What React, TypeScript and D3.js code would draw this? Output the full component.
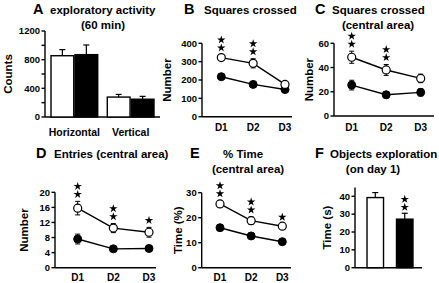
import React from "react";
import * as d3 from "d3";

// ---------- DATA ----------
const days = ["D1", "D2", "D3"];

// Panel A: exploratory activity (60 min)
const activityCats = ["Horizontal", "Vertical"];
const activityOpen = [855, 278];
const activityOpenErr = [85, 37];
const activityFilled = [870, 248];
const activityFilledErr = [135, 40];
const activityTicks = [0, 400, 800, 1200];

// Panel B: Squares crossed
const squaresOpen = [322, 291, 176];
const squaresOpenErr = [15, 25, 10];
const squaresFilled = [218, 176, 148];
const squaresFilledErr = [14, 12, 10];
const squaresStars = [2, 2, 0];
const squaresTicks = [0, 100, 200, 300, 400];

// Panel C: Squares crossed (central area)
const centralOpen = [48.5, 38, 31];
const centralOpenErr = [5, 4.5, 3.5];
const centralFilled = [25.5, 17.5, 19.5];
const centralFilledErr = [4, 2.5, 3];
const centralStars = [2, 2, 0];
const centralTicks = [0, 20, 40, 60];

// Panel D: Entries (central area)
const entriesOpen = [15.8, 10.5, 9.4];
const entriesOpenErr = [1.8, 1.2, 1.3];
const entriesFilled = [7.6, 5.0, 5.1];
const entriesFilledErr = [1.3, 0.6, 0.6];
const entriesStars = [2, 2, 1];
const entriesTicks = [0, 4, 8, 12, 16, 20];

// Panel E: % Time (central area)
const timeOpen = [25.5, 18.8, 16.6];
const timeOpenErr = [1.3, 1.5, 0.8];
const timeFilled = [16, 12.7, 10.4];
const timeFilledErr = [0.5, 0.6, 0.5];
const timeStars = [2, 2, 1];
const timeTicks = [0, 10, 20, 30];

// Panel F: Objects exploration (on day 1)
const objectsGroups = ["open", "filled"];
const objectsValues = [39.3, 27.2];
const objectsErr = [2.8, 3.3];
const objectsStars = [0, 2];
const objectsTicks = [0, 10, 20, 30, 40];

const FONT = "'Liberation Sans', Arial, Helvetica, sans-serif";
const SW = 1.4;

const starPath = d3.symbol().type(d3.symbolStar).size(22)() as string;

function Stars({ x, yTop, n }: { x: number; yTop: number; n: number }) {
  const items = [];
  for (let i = 0; i < n; i++) {
    items.push(
      <path key={i} d={starPath} transform={`translate(${x},${yTop - 7 - i * 8})`} fill="#000" />
    );
  }
  return <g>{items}</g>;
}

function YAxis({ x, y, ticks, minor, label, labelX, fs = 9.5 }: any) {
  const [d0, d1] = y.domain();
  const all = minor || ticks;
  return (
    <g>
      <line x1={x} x2={x} y1={y(d0)} y2={y(d1)} stroke="#000" strokeWidth={SW} />
      {all.map((t: number) => (
        <line key={"t" + t} x1={x - 3.5} x2={x} y1={y(t)} y2={y(t)} stroke="#000" strokeWidth={SW} />
      ))}
      {ticks.map((t: number) => (
        <text key={"l" + t} x={x - 5} y={y(t)} dy="0.35em" textAnchor="end" fontSize={fs} fontWeight="bold" fontFamily={FONT}>
          {t}
        </text>
      ))}
      <text
        transform={`translate(${labelX},${(y(d0) + y(d1)) / 2}) rotate(-90)`}
        textAnchor="middle"
        fontSize={11.5}
        fontWeight="bold"
        fontFamily={FONT}
      >
        {label}
      </text>
    </g>
  );
}

function LinePanel({ x0, x1, xr, yr, domain, ticks, open, openErr, filled, filledErr, stars, label, labelX, xLabelY }: any) {
  const x = d3.scalePoint().domain(days).range(xr);
  const y = d3.scaleLinear().domain(domain).range(yr);
  const line = d3
    .line<number>()
    .x((_, i) => x(days[i]) as number)
    .y((v) => y(v));
  const errBar = (vals: number[], errs: number[], key: string) =>
    vals.map((v, i) => {
      const cx = x(days[i]) as number;
      return (
        <g key={key + i}>
          <line x1={cx} x2={cx} y1={y(v - errs[i])} y2={y(v + errs[i])} stroke="#000" strokeWidth={1} />
          <line x1={cx - 2.5} x2={cx + 2.5} y1={y(v - errs[i])} y2={y(v - errs[i])} stroke="#000" strokeWidth={1} />
          <line x1={cx - 2.5} x2={cx + 2.5} y1={y(v + errs[i])} y2={y(v + errs[i])} stroke="#000" strokeWidth={1} />
        </g>
      );
    });
  return (
    <g>
      <YAxis x={x0} y={y} ticks={ticks} label={label} labelX={labelX} />
      <line x1={x0} x2={x1} y1={y(domain[0])} y2={y(domain[0])} stroke="#000" strokeWidth={SW} />
      {days.map((d) => (
        <text key={d} x={x(d)} y={xLabelY} textAnchor="middle" fontSize={10} fontWeight="bold" fontFamily={FONT}>
          {d}
        </text>
      ))}
      <path d={line(filled) as string} fill="none" stroke="#000" strokeWidth={SW} />
      <path d={line(open) as string} fill="none" stroke="#000" strokeWidth={SW} />
      {errBar(filled, filledErr, "f")}
      {errBar(open, openErr, "o")}
      {filled.map((v: number, i: number) => (
        <circle key={"fc" + i} cx={x(days[i])} cy={y(v)} r={4} fill="#000" stroke="#000" strokeWidth={1} />
      ))}
      {open.map((v: number, i: number) => (
        <circle key={"oc" + i} cx={x(days[i])} cy={y(v)} r={4} fill="#fff" stroke="#000" strokeWidth={1.2} />
      ))}
      {stars.map((n: number, i: number) => (
        <Stars key={"s" + i} x={x(days[i]) as number} yTop={y(open[i] + openErr[i])} n={n} />
      ))}
    </g>
  );
}

function Title({ letter, lx, tx, lines, y }: any) {
  return (
    <g fontFamily={FONT} fontWeight="bold">
      <text x={lx} y={y} fontSize={14.5}>
        {letter}
      </text>
      {lines.map((l: any, i: number) => (
        <text key={i} x={l.x ?? tx} y={y + i * 15} fontSize={11.5} textAnchor={l.anchor ?? "start"}>
          {l.t}
        </text>
      ))}
    </g>
  );
}

export default function App() {
  // Panel A
  const yA = d3.scaleLinear().domain([0, 1200]).range([117, 31]);
  const xA = d3.scaleBand().domain(activityCats).range([51, 154]).paddingInner(0.17);
  const xAin = d3.scaleBand().domain(["open", "filled"]).range([0, xA.bandwidth()]).paddingInner(0.05);

  // Panel F
  const yF = d3.scaleLinear().domain([0, 45]).range([267.7, 187.4]);
  const xF = d3.scaleBand().domain(objectsGroups).range([357, 423]).paddingInner(0.44).paddingOuter(0.34);

  const barErr = (cx: number, top: number, errTop: number, w: number, key: string) => (
    <g key={key}>
      <line x1={cx} x2={cx} y1={top} y2={errTop} stroke="#000" strokeWidth={1.2} />
      <line x1={cx - w / 2} x2={cx + w / 2} y1={errTop} y2={errTop} stroke="#000" strokeWidth={1.2} />
    </g>
  );

  return (
    <svg width={439} height={283} style={{ position: "absolute", left: 0, top: 0, background: "#fff" }}>
      <rect width={439} height={283} fill="#fff" />
      {/* Titles */}
      <Title letter="A" lx={33} tx={50} y={14} lines={[{ t: "exploratory activity" }, { t: "(60 min)", x: 103, anchor: "middle" }]} />
      <Title letter="B" lx={184} tx={204} y={14} lines={[{ t: "Squares crossed" }]} />
      <Title letter="C" lx={315} tx={332} y={14} lines={[{ t: "Squares crossed" }, { t: "(central area)", x: 378, anchor: "middle" }]} />
      <Title letter="D" lx={36} tx={54} y={158} lines={[{ t: "Entries (central area)" }]} />
      <Title letter="E" lx={190} tx={0} y={158} lines={[{ t: "% Time", x: 243, anchor: "middle" }, { t: "(central area)", x: 248, anchor: "middle" }]} />
      <Title letter="F" lx={315} tx={330} y={158} lines={[{ t: "Objects exploration" }, { t: "(on day 1)", x: 373, anchor: "middle" }]} />

      {/* Panel A */}
      <g>
        <YAxis x={45} y={yA} ticks={activityTicks} minor={d3.range(0, 1201, 200)} label="Counts" labelX={12} />
        <line x1={45} x2={160} y1={117} y2={117} stroke="#000" strokeWidth={SW} />
        {activityCats.map((c, i) => {
          const gx = xA(c) as number;
          const bw = xAin.bandwidth();
          const ox = gx + (xAin("open") as number);
          const fx = gx + (xAin("filled") as number);
          return (
            <g key={c}>
              {barErr(ox + bw / 2, yA(activityOpen[i]), yA(activityOpen[i] + activityOpenErr[i]), 6, "oe" + i)}
              {barErr(fx + bw / 2, yA(activityFilled[i]), yA(activityFilled[i] + activityFilledErr[i]), 6, "fe" + i)}
              <rect x={ox} y={yA(activityOpen[i])} width={bw} height={yA(0) - yA(activityOpen[i])} fill="#fff" stroke="#000" strokeWidth={SW} />
              <rect x={fx} y={yA(activityFilled[i])} width={bw} height={yA(0) - yA(activityFilled[i])} fill="#000" stroke="#000" strokeWidth={SW} />
              <text x={gx + xA.bandwidth() / 2} y={136} textAnchor="middle" fontSize={10.5} fontWeight="bold" fontFamily={FONT}>
                {c}
              </text>
            </g>
          );
        })}
      </g>

      {/* Panel B */}
      <LinePanel
        x0={202} x1={292} xr={[221.3, 285]} yr={[116.7, 43.3]} domain={[0, 400]} ticks={squaresTicks}
        open={squaresOpen} openErr={squaresOpenErr} filled={squaresFilled} filledErr={squaresFilledErr}
        stars={squaresStars} label="Number" labelX={171} xLabelY={131}
      />
      {/* Panel C */}
      <LinePanel
        x0={334} x1={434} xr={[351.7, 420.7]} yr={[116, 43.3]} domain={[0, 60]} ticks={centralTicks}
        open={centralOpen} openErr={centralOpenErr} filled={centralFilled} filledErr={centralFilledErr}
        stars={centralStars} label="Number" labelX={313} xLabelY={131}
      />
      {/* Panel D */}
      <LinePanel
        x0={55} x1={156} xr={[77.7, 149]} yr={[267.7, 192.3]} domain={[0, 20]} ticks={entriesTicks}
        open={entriesOpen} openErr={entriesOpenErr} filled={entriesFilled} filledErr={entriesFilledErr}
        stars={entriesStars} label="Number" labelX={28} xLabelY={281}
      />
      {/* Panel E */}
      <LinePanel
        x0={201.7} x1={291} xr={[220, 282.3]} yr={[267.7, 192.7]} domain={[0, 30]} ticks={timeTicks}
        open={timeOpen} openErr={timeOpenErr} filled={timeFilled} filledErr={timeFilledErr}
        stars={timeStars} label="Time (%)" labelX={182} xLabelY={281}
      />

      {/* Panel F */}
      <g>
        <YAxis x={355} y={yF} ticks={objectsTicks} label="Time (s)" labelX={331} />
        <line x1={355} x2={422} y1={267.7} y2={267.7} stroke="#000" strokeWidth={SW} />
        {objectsGroups.map((g, i) => {
          const bx = xF(g) as number;
          const bw = xF.bandwidth();
          const top = yF(objectsValues[i]);
          const et = yF(objectsValues[i] + objectsErr[i]);
          return (
            <g key={g}>
              {barErr(bx + bw / 2, top, et, 6, "fb" + i)}
              <rect x={bx} y={top} width={bw} height={yF(0) - top} fill={i === 0 ? "#fff" : "#000"} stroke="#000" strokeWidth={SW} />
              <Stars x={bx + bw / 2} yTop={et + 1} n={objectsStars[i]} />
            </g>
          );
        })}
      </g>
    </svg>
  );
}
